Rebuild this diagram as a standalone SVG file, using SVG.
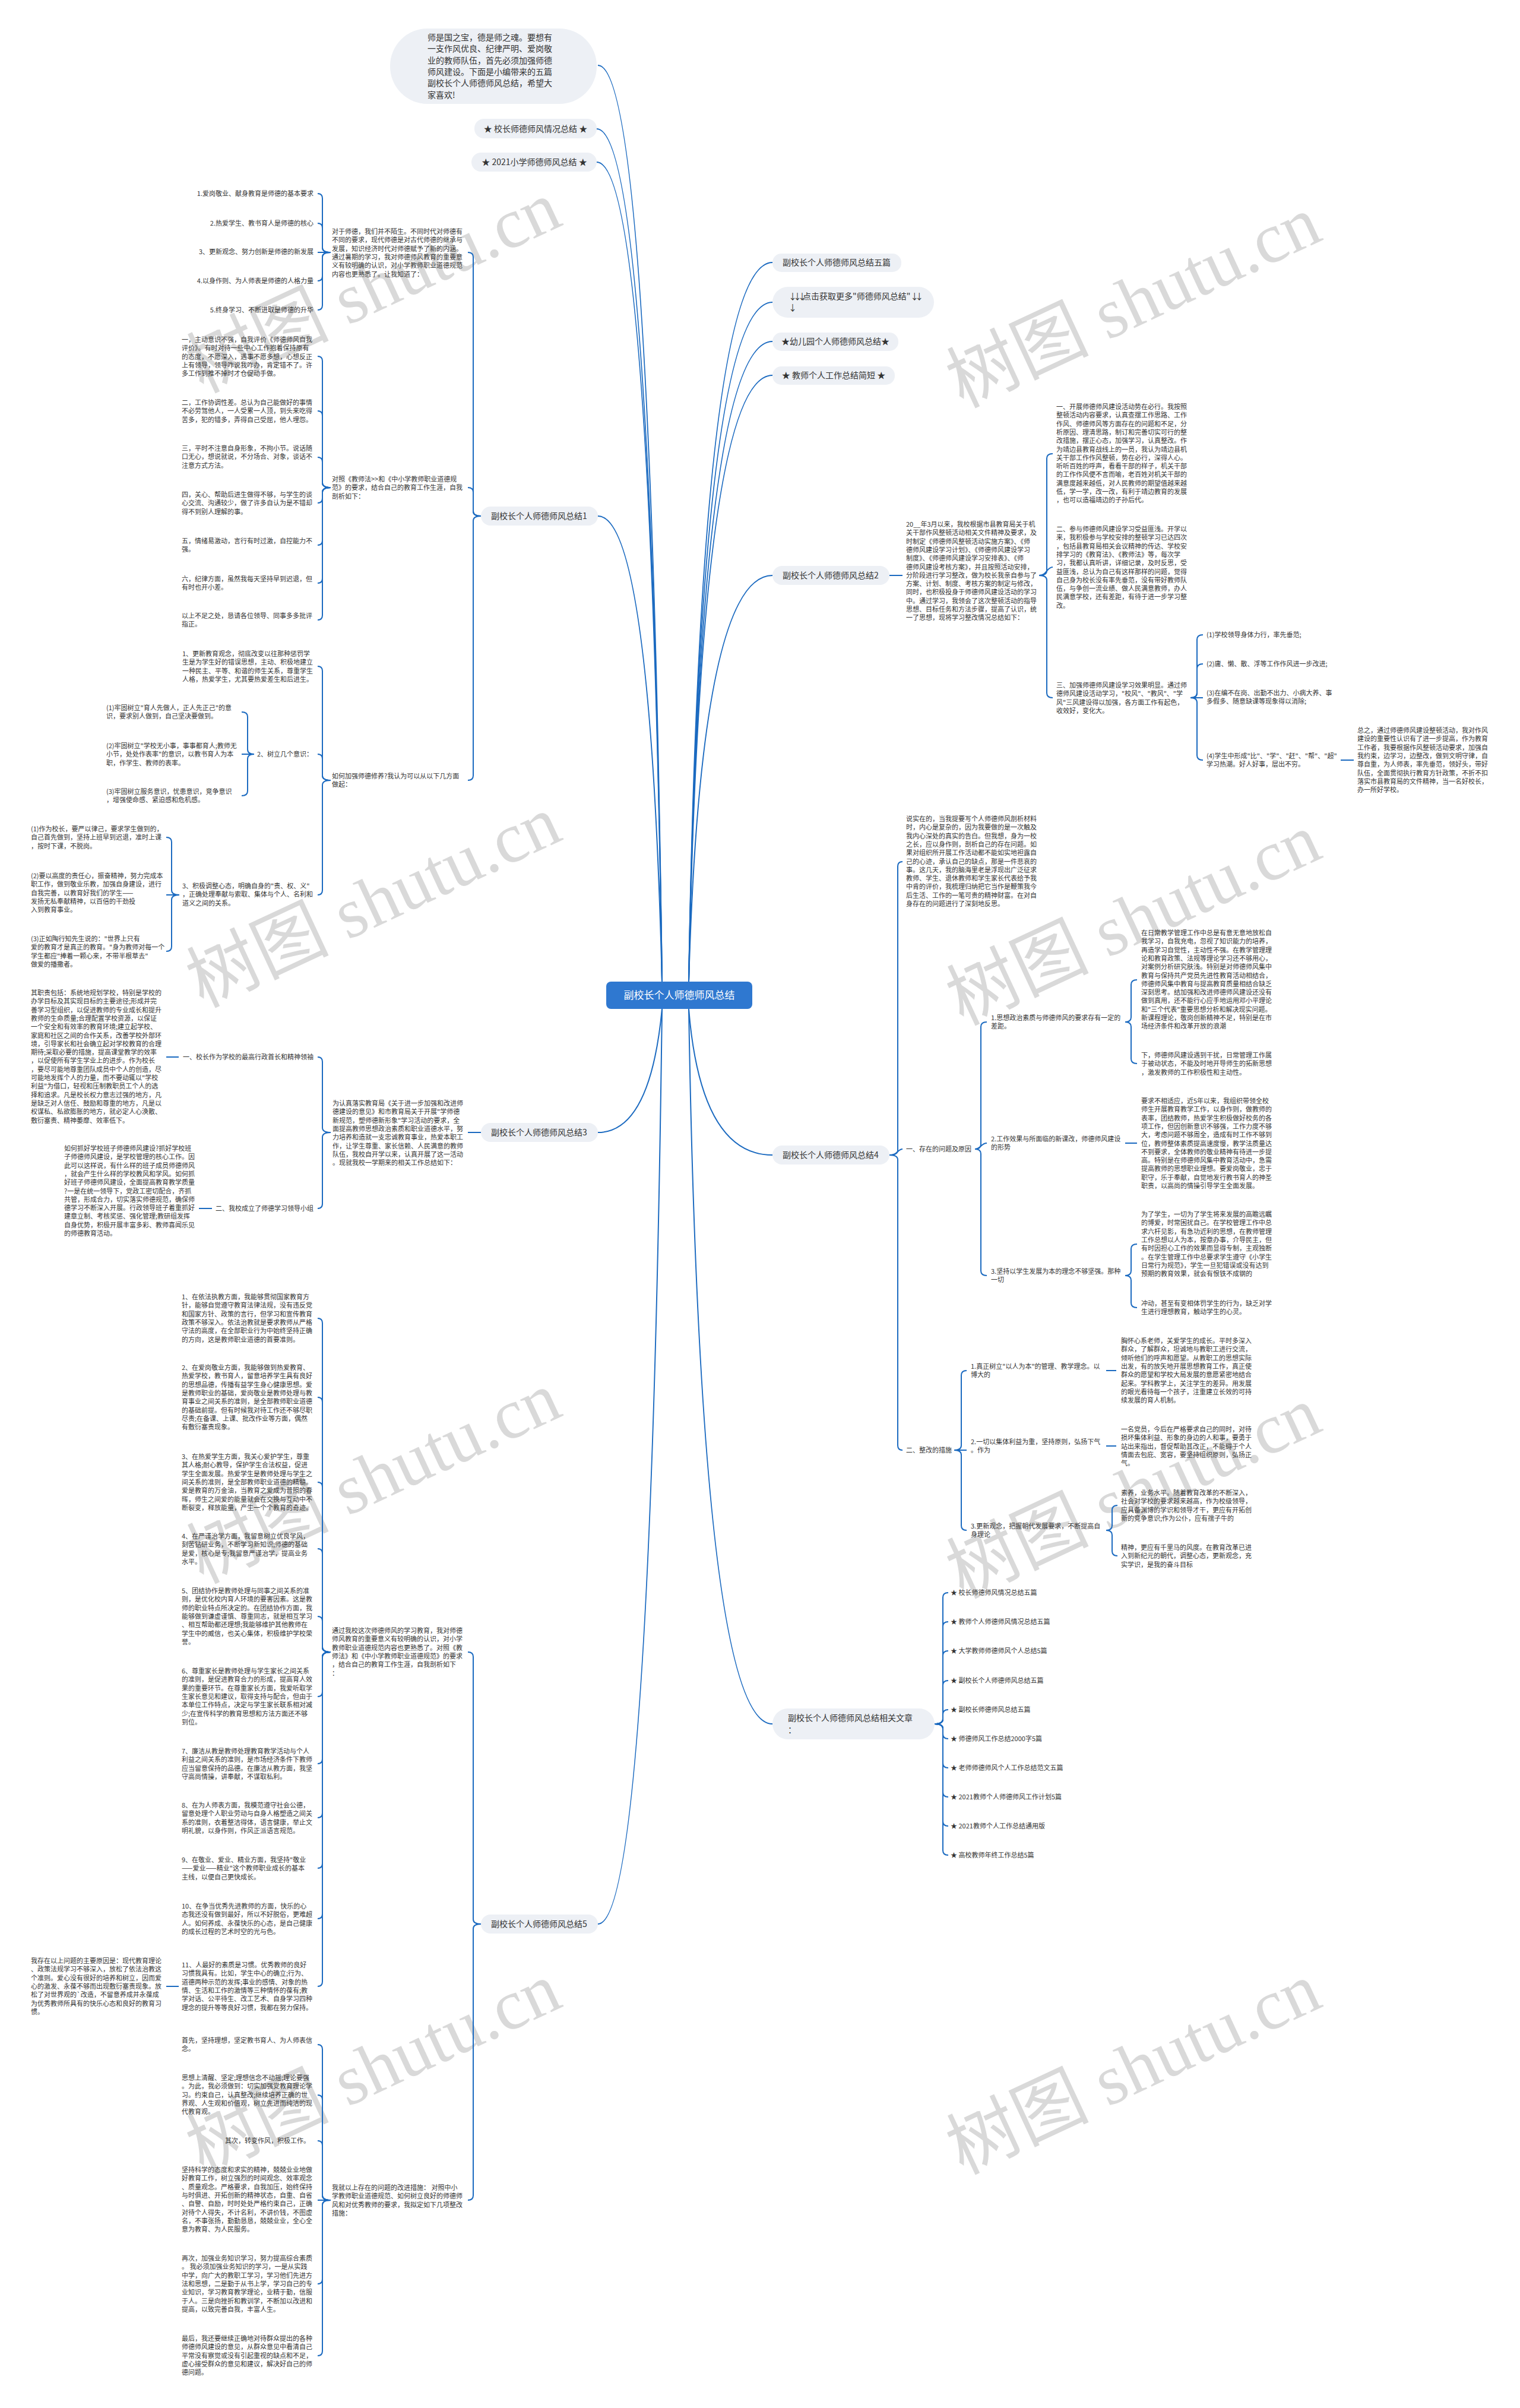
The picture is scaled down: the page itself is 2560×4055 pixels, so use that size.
<svg xmlns="http://www.w3.org/2000/svg" width="2560" height="4055" viewBox="0 0 2560 4055">
<style>
.t{font-family:"Noto Sans CJK SC","Noto Sans",sans-serif;font-size:11px;fill:#333}
.n{font-family:"Noto Sans CJK SC","Noto Sans",sans-serif;font-size:14px;fill:#333}
.m{text-anchor:middle}
.e{text-anchor:end}
.p{fill:#edf0f5}
.c path{fill:none;stroke:#1b6ac0;stroke-width:2}
.w{font-family:"Liberation Serif","Noto Sans CJK SC",serif;font-size:120px;fill:#d9d9d9}
.ar{letter-spacing:-6px}
</style>
<rect width="2560" height="4055" fill="#fff"/>
<g id="watermark">
<text class="w m" transform="translate(646 520) rotate(-25)">树图 shutu.cn</text>
<text class="w m" transform="translate(1926 545) rotate(-25)">树图 shutu.cn</text>
<text class="w m" transform="translate(646 1555) rotate(-25)">树图 shutu.cn</text>
<text class="w m" transform="translate(1926 1585) rotate(-25)">树图 shutu.cn</text>
<text class="w m" transform="translate(646 2525) rotate(-25)">树图 shutu.cn</text>
<text class="w m" transform="translate(1926 2550) rotate(-25)">树图 shutu.cn</text>
<text class="w m" transform="translate(646 3520) rotate(-25)">树图 shutu.cn</text>
<text class="w m" transform="translate(1926 3520) rotate(-25)">树图 shutu.cn</text>
</g>
<g id="connectors" class="c">
<path d="M1115 1653Q1095 110 1007 110"/>
<path d="M1115 1653Q1095 217 1005 217"/>
<path d="M1115 1653Q1095 273 1005 273"/>
<path d="M1115 1653Q1095 869 1007 869"/>
<path d="M1115 1699Q1095 1907 1007 1907"/>
<path d="M1115 1699Q1095 3240 1007 3240"/>
<path d="M1160 1653Q1180 442 1301 442"/>
<path d="M1160 1653Q1180 509 1301 509"/>
<path d="M1160 1653Q1180 575 1301 575"/>
<path d="M1160 1653Q1180 632 1301 632"/>
<path d="M1160 1653Q1180 969 1301 969"/>
<path d="M1160 1699Q1180 1945 1301 1945"/>
<path d="M1160 1699Q1180 2903 1301 2903"/>
<path d="M810 869Q797 869 797 861V433Q797 425 788 425"/>
<path d="M810 869Q797 869 797 861V829Q797 821 788 821"/>
<path d="M810 869Q797 869 797 877V1306Q797 1314 788 1314"/>
<path d="M557 425Q543 425 543 417V334Q543 326 535 326"/>
<path d="M557 425Q543 425 543 417V384Q543 376 535 376"/>
<path d="M557 425H535"/>
<path d="M557 425Q543 425 543 433V465Q543 473 535 473"/>
<path d="M557 425Q543 425 543 433V514Q543 522 535 522"/>
<path d="M557 821Q543 821 543 813V608Q543 600 535 600"/>
<path d="M557 821Q543 821 543 813V700Q543 692 535 692"/>
<path d="M557 821Q543 821 543 813V778Q543 770 535 770"/>
<path d="M557 821Q543 821 543 829V839Q543 847 535 847"/>
<path d="M557 821Q543 821 543 829V910Q543 918 535 918"/>
<path d="M557 821Q543 821 543 829V974Q543 982 535 982"/>
<path d="M557 821Q543 821 543 829V1036Q543 1044 535 1044"/>
<path d="M557 1314Q543 1314 543 1306V1130Q543 1122 535 1122"/>
<path d="M557 1314Q543 1314 543 1306V1278Q543 1270 535 1270"/>
<path d="M557 1314Q543 1314 543 1322V1499Q543 1507 535 1507"/>
<path d="M428 1270Q417 1270 417 1262V1207Q417 1199 407 1199"/>
<path d="M428 1270H407"/>
<path d="M428 1270Q417 1270 417 1278V1332Q417 1340 407 1340"/>
<path d="M302 1507Q289 1507 289 1499V1418Q289 1410 280 1410"/>
<path d="M302 1507H280"/>
<path d="M302 1507Q289 1507 289 1515V1594Q289 1602 280 1602"/>
<path d="M810 1907H788"/>
<path d="M557 1907Q543 1907 543 1899V1788Q543 1780 535 1780"/>
<path d="M557 1907Q543 1907 543 1915V2027Q543 2035 535 2035"/>
<path d="M301 1780H280"/>
<path d="M357 2035H335"/>
<path d="M810 3240Q797 3240 797 3232V2790Q797 2782 788 2782"/>
<path d="M810 3240Q797 3240 797 3248V3697Q797 3705 788 3705"/>
<path d="M557 2782Q543 2782 543 2774V2228Q543 2220 535 2220"/>
<path d="M557 2782Q543 2782 543 2774V2361Q543 2353 535 2353"/>
<path d="M557 2782Q543 2782 543 2774V2504Q543 2496 535 2496"/>
<path d="M557 2782Q543 2782 543 2774V2616Q543 2608 535 2608"/>
<path d="M557 2782Q543 2782 543 2774V2730Q543 2722 535 2722"/>
<path d="M557 2782Q543 2782 543 2790V2849Q543 2857 535 2857"/>
<path d="M557 2782Q543 2782 543 2790V2962Q543 2970 535 2970"/>
<path d="M557 2782Q543 2782 543 2790V3053Q543 3061 535 3061"/>
<path d="M557 2782Q543 2782 543 2790V3138Q543 3146 535 3146"/>
<path d="M557 2782Q543 2782 543 2790V3223Q543 3231 535 3231"/>
<path d="M557 2782Q543 2782 543 2790V3337Q543 3345 535 3345"/>
<path d="M301 3345H280"/>
<path d="M557 3705Q543 3705 543 3697V3451Q543 3443 535 3443"/>
<path d="M557 3705Q543 3705 543 3697V3536Q543 3528 535 3528"/>
<path d="M557 3705Q543 3705 543 3697V3613Q543 3605 535 3605"/>
<path d="M557 3705H535"/>
<path d="M557 3705Q543 3705 543 3713V3838Q543 3846 535 3846"/>
<path d="M557 3705Q543 3705 543 3713V3959Q543 3967 535 3967"/>
<path d="M1498 969H1520"/>
<path d="M1750 969Q1763 969 1763 961V772Q1763 764 1773 764"/>
<path d="M1750 969C1763 969 1763 955 1773 955"/>
<path d="M1750 969Q1763 969 1763 977V1167Q1763 1175 1773 1175"/>
<path d="M2005 1175Q2016 1175 2016 1167V1077Q2016 1069 2026 1069"/>
<path d="M2005 1175Q2016 1175 2016 1167V1126Q2016 1118 2026 1118"/>
<path d="M2005 1175H2026"/>
<path d="M2005 1175Q2016 1175 2016 1183V1272Q2016 1280 2026 1280"/>
<path d="M2258 1280H2280"/>
<path d="M1498 1945Q1512 1945 1512 1937V1459Q1512 1451 1520 1451"/>
<path d="M1498 1945C1512 1945 1512 1935 1520 1935"/>
<path d="M1498 1945Q1512 1945 1512 1953V2434Q1512 2442 1520 2442"/>
<path d="M1642 1935Q1652 1935 1652 1927V1729Q1652 1721 1662 1721"/>
<path d="M1642 1935C1652 1935 1652 1925 1662 1925"/>
<path d="M1642 1935Q1652 1935 1652 1943V2140Q1652 2148 1662 2148"/>
<path d="M1895 1721Q1905 1721 1905 1713V1658Q1905 1650 1915 1650"/>
<path d="M1895 1721Q1905 1721 1905 1729V1783Q1905 1791 1915 1791"/>
<path d="M1895 1925H1915"/>
<path d="M1895 2148Q1905 2148 1905 2140V2103Q1905 2095 1915 2095"/>
<path d="M1895 2148Q1905 2148 1905 2156V2194Q1905 2202 1915 2202"/>
<path d="M1607 2442Q1619 2442 1619 2434V2316Q1619 2308 1628 2308"/>
<path d="M1607 2442H1628"/>
<path d="M1607 2442Q1619 2442 1619 2450V2569Q1619 2577 1628 2577"/>
<path d="M1863 2308H1880"/>
<path d="M1863 2435H1880"/>
<path d="M1863 2577Q1873 2577 1873 2569V2543Q1873 2535 1882 2535"/>
<path d="M1863 2577Q1873 2577 1873 2585V2612Q1873 2620 1882 2620"/>
<path d="M1574 2903Q1588 2903 1588 2895V2690Q1588 2682 1597 2682"/>
<path d="M1574 2903Q1588 2903 1588 2895V2739Q1588 2731 1597 2731"/>
<path d="M1574 2903Q1588 2903 1588 2895V2788Q1588 2780 1597 2780"/>
<path d="M1574 2903Q1588 2903 1588 2895V2838Q1588 2830 1597 2830"/>
<path d="M1574 2903Q1588 2903 1588 2895V2887Q1588 2879 1597 2879"/>
<path d="M1574 2903Q1588 2903 1588 2911V2920Q1588 2928 1597 2928"/>
<path d="M1574 2903Q1588 2903 1588 2911V2969Q1588 2977 1597 2977"/>
<path d="M1574 2903Q1588 2903 1588 2911V3018Q1588 3026 1597 3026"/>
<path d="M1574 2903Q1588 2903 1588 2911V3067Q1588 3075 1597 3075"/>
<path d="M1574 2903Q1588 2903 1588 2911V3116Q1588 3124 1597 3124"/>
</g>
<g id="center">
<rect x="1021" y="1653" width="246" height="46" rx="8" fill="#2f78d0"/>
<text class="n m" x="1144" y="1682" style="font-size:17px;fill:#fff">副校长个人师德师风总结</text>
</g>
<g id="intro">
<rect class="p" x="657" y="48" width="348" height="127" rx="63"/>
<text class="n" x="720" y="68">师是国之宝，德是师之魂。要想有<tspan x="720" dy="19.3">一支作风优良、纪律严明、爱岗敬</tspan><tspan x="720" dy="19.3">业的教师队伍，首先必须加强师德</tspan><tspan x="720" dy="19.3">师风建设。下面是小编带来的五篇</tspan><tspan x="720" dy="19.3">副校长个人师德师风总结，希望大</tspan><tspan x="720" dy="19.3">家喜欢!</tspan></text>
</g>
<g id="link-a"><rect class="p" x="799" y="200" width="206" height="33" rx="16"/><text class="n m" x="902" y="222">★ 校长师德师风情况总结 ★</text></g>
<g id="link-b"><rect class="p" x="794" y="257" width="211" height="32" rx="16"/><text class="n m" x="900" y="278">★ 2021小学师德师风总结 ★</text></g>
<g id="node1">
<rect class="p" x="810" y="853" width="197" height="32" rx="16"/><text class="n m" x="908" y="874">副校长个人师德师风总结1</text>
<text class="t e" x="528" y="330">1.爱岗敬业、献身教育是师德的基本要求</text>
<text class="t e" x="528" y="380">2.热爱学生、教书育人是师德的核心</text>
<text class="t e" x="528" y="428">3、更新观念、努力创新是师德的新发展</text>
<text class="t e" x="528" y="477">4.以身作则、为人师表是师德的人格力量</text>
<text class="t e" x="528" y="526">5.终身学习、不断进取是师德的升华</text>
<text class="t" x="559" y="394">对于师德，我们并不陌生。不同时代对师德有<tspan x="559" dy="14.3">不同的要求，现代师德是对古代师德的继承与</tspan><tspan x="559" dy="14.3">发展，知识经济时代对师德赋予了新的内涵。</tspan><tspan x="559" dy="14.3">通过暑期的学习，我对师德师风教育的重要意</tspan><tspan x="559" dy="14.3">义有较明确的认识，对小学教师职业道德规范</tspan><tspan x="559" dy="14.3">内容也更熟悉了。让我知道了：</tspan></text>
<text class="t" x="559" y="811">对照《教师法&gt;&gt;和《中小学教师职业道德规<tspan x="559" dy="14.3">范》的要求，结合自己的教育工作生涯，自我</tspan><tspan x="559" dy="14.3">剖析如下：</tspan></text>
<text class="t" x="306" y="576">一，主动意识不强，自我评价《师德师风自我<tspan x="306" dy="14.3">评价》。有时对待一些中心工作抱着保持原有</tspan><tspan x="306" dy="14.3">的态度，不愿深入，遇事不愿多想，心想反正</tspan><tspan x="306" dy="14.3">上有领导，领导咋说我咋办，肯定错不了。许</tspan><tspan x="306" dy="14.3">多工作到推不掉时才仓促动手做。</tspan></text>
<text class="t" x="306" y="682">二，工作协调性差。总认为自己能做好的事情<tspan x="306" dy="14.3">不必劳驾他人，一人受累一人顶，到头来吃得</tspan><tspan x="306" dy="14.3">苦多，犯的错多，弄得自己受屈，他人埋怨。</tspan></text>
<text class="t" x="306" y="759">三，平时不注意自身形象，不拘小节。说话随<tspan x="306" dy="14.3">口无心，想说就说，不分场合、对象，谈话不</tspan><tspan x="306" dy="14.3">注意方式方法。</tspan></text>
<text class="t" x="306" y="837">四，关心、帮助后进生做得不够，与学生的谈<tspan x="306" dy="14.3">心交流、沟通较少，做了许多自认为是不错却</tspan><tspan x="306" dy="14.3">得不到别人理解的事。</tspan></text>
<text class="t" x="306" y="915">五，情绪易激动，言行有时过激，自控能力不<tspan x="306" dy="14.3">强。</tspan></text>
<text class="t" x="306" y="979">六，纪律方面，虽然我每天坚持早到迟退，但<tspan x="306" dy="14.3">有时也开小差。</tspan></text>
<text class="t" x="306" y="1041">以上不足之处，恳请各位领导、同事多多批评<tspan x="306" dy="14.3">指正。</tspan></text>
<text class="t" x="559" y="1311">如何加强师德修养?我认为可以从以下几方面<tspan x="559" dy="14.3">做起：</tspan></text>
<text class="t" x="307" y="1105">1、更新教育观念，彻底改变以往那种惩罚学<tspan x="307" dy="14.3">生是为学生好的错误思想，主动、积极地建立</tspan><tspan x="307" dy="14.3">一种民主、平等、和谐的师生关系，尊重学生</tspan><tspan x="307" dy="14.3">人格，热爱学生，尤其要热爱差生和后进生。</tspan></text>
<text class="t" x="433" y="1274">2、树立几个意识：</text>
<text class="t" x="179" y="1196">(1)牢固树立"育人先做人，正人先正己"的意<tspan x="179" dy="14.3">识，要求别人做到，自己坚决要做到。</tspan></text>
<text class="t" x="179" y="1260">(2)牢固树立"学校无小事，事事都育人;教师无<tspan x="179" dy="14.3">小节，处处作表率"的意识，以教书育人为本</tspan><tspan x="179" dy="14.3">职，作学生、教师的表率。</tspan></text>
<text class="t" x="179" y="1337">(3)牢固树立服务意识，忧患意识，竞争意识<tspan x="179" dy="14.3">，增强使命感、紧迫感和危机感。</tspan></text>
<text class="t" x="307" y="1496">3、积极调整心态，明确自身的"责、权、义"<tspan x="307" dy="14.3">，正确处理奉献与索取、集体与个人、名利和</tspan><tspan x="307" dy="14.3">道义之间的关系。</tspan></text>
<text class="t" x="52" y="1400">(1)作为校长，要严以律己，要求学生做到的，<tspan x="52" dy="14.3">自己首先做到，坚持上班早到迟退，准时上课</tspan><tspan x="52" dy="14.3">，按时下课，不脱岗。</tspan></text>
<text class="t" x="52" y="1479">(2)要以高度的责任心，振奋精神，努力完成本<tspan x="52" dy="14.3">职工作，做到敬业乐教，加强自身建设，进行</tspan><tspan x="52" dy="14.3">自我完善，以教育好我们的学生——</tspan><tspan x="52" dy="14.3">发扬无私奉献精神，以百倍的干劲投</tspan><tspan x="52" dy="14.3">入到教育事业。</tspan></text>
<text class="t" x="52" y="1585">(3)正如陶行知先生说的："世界上只有<tspan x="52" dy="14.3">爱的教育才是真正的教育。"身为教师对每一个</tspan><tspan x="52" dy="14.3">学生都应"捧着一颗心来，不带半根草去"</tspan><tspan x="52" dy="14.3">做爱的播撒者。</tspan></text>
</g>
<g id="node3">
<rect class="p" x="810" y="1891" width="197" height="32" rx="16"/><text class="n m" x="908" y="1912">副校长个人师德师风总结3</text>
<text class="t" x="560" y="1862">为认真落实教育局《关于进一步加强和改进师<tspan x="560" dy="14.3">德建设的意见》和市教育局关于开展"学师德</tspan><tspan x="560" dy="14.3">新规范，塑师德新形象"学习活动的要求，全</tspan><tspan x="560" dy="14.3">面提高教师思想政治素质和职业道德水平，努</tspan><tspan x="560" dy="14.3">力培养和造就一支忠诚教育事业，热爱本职工</tspan><tspan x="560" dy="14.3">作，让学生尊重、家长信赖、人民满意的教师</tspan><tspan x="560" dy="14.3">队伍，我校自开学以来，认真开展了这一活动</tspan><tspan x="560" dy="14.3">。现就我校一学期来的相关工作总结如下：</tspan></text>
<text class="t e" x="528" y="1784">一、校长作为学校的最高行政首长和精神领袖</text>
<text class="t e" x="528" y="2039">二、我校成立了师德学习领导小组</text>
<text class="t" x="52" y="1676">其职责包括：系统地规划学校，特别是学校的<tspan x="52" dy="14.3">办学目标及其实现目标的主要途径;形成并完</tspan><tspan x="52" dy="14.3">善学习型组织，以促进教师的专业成长和提升</tspan><tspan x="52" dy="14.3">教师的生命质量;合理配置学校资源，以保证</tspan><tspan x="52" dy="14.3">一个安全和有效率的教育环境;建立起学校、</tspan><tspan x="52" dy="14.3">家庭和社区之间的合作关系，改善学校外部环</tspan><tspan x="52" dy="14.3">境，引导家长和社会确立起对学校教育的合理</tspan><tspan x="52" dy="14.3">期待;采取必要的措施，提高课堂教学的效率</tspan><tspan x="52" dy="14.3">，以促使所有学生学业上的进步。作为校长</tspan><tspan x="52" dy="14.3">，要尽可能地尊重团队成员中个人的创造，尽</tspan><tspan x="52" dy="14.3">可能地发挥个人的力量，而不要动辄以"学校</tspan><tspan x="52" dy="14.3">利益"为借口，轻视和压制教职员工个人的选</tspan><tspan x="52" dy="14.3">择和追求。凡是校长权力意志过强的地方，凡</tspan><tspan x="52" dy="14.3">是缺乏对人信任、鼓励和尊重的地方，凡是以</tspan><tspan x="52" dy="14.3">权谋私、私欲膨胀的地方，就必定人心涣散、</tspan><tspan x="52" dy="14.3">敷衍塞责、精神萎靡、效率低下。</tspan></text>
<text class="t" x="108" y="1938">如何抓好学校班子师德师风建设?抓好学校班<tspan x="108" dy="14.3">子师德师风建设，是学校管理的核心工作。因</tspan><tspan x="108" dy="14.3">此可以这样说，有什么样的班子成员师德师风</tspan><tspan x="108" dy="14.3">，就会产生什么样的学校教风和学风。如何抓</tspan><tspan x="108" dy="14.3">好班子师德师风建设，全面提高教育教学质量</tspan><tspan x="108" dy="14.3">?一是在统一领导下，党政工密切配合，齐抓</tspan><tspan x="108" dy="14.3">共管，形成合力，切实落实师德规范，确保师</tspan><tspan x="108" dy="14.3">德学习不断深入开展。行政领导班子着重抓好</tspan><tspan x="108" dy="14.3">建章立制、考核奖惩、强化管理;教研组发挥</tspan><tspan x="108" dy="14.3">自身优势，积极开展丰富多彩、教师喜闻乐见</tspan><tspan x="108" dy="14.3">的师德教育活动。</tspan></text>
</g>
<g id="node5">
<rect class="p" x="810" y="3224" width="197" height="32" rx="16"/><text class="n m" x="908" y="3245">副校长个人师德师风总结5</text>
<text class="t" x="559" y="2750">通过我校这次师德师风的学习教育，我对师德<tspan x="559" dy="14.3">师风教育的重要意义有较明确的认识，对小学</tspan><tspan x="559" dy="14.3">教师职业道德规范内容也更熟悉了。对照《教</tspan><tspan x="559" dy="14.3">师法》和《中小学教师职业道德规范》的要求</tspan><tspan x="559" dy="14.3">，结合自己的教育工作生涯，自我剖析如下</tspan><tspan x="559" dy="14.3">：</tspan></text>
<text class="t" x="306" y="2188">1、在依法执教方面，我能够贯彻国家教育方<tspan x="306" dy="14.3">针，能够自觉遵守教育法律法规，没有违反党</tspan><tspan x="306" dy="14.3">和国家方针、政策的言行，但学习和宣传教育</tspan><tspan x="306" dy="14.3">政策不够深入。依法治教就是要求教师从严格</tspan><tspan x="306" dy="14.3">守法的高度，在全部职业行为中始终坚持正确</tspan><tspan x="306" dy="14.3">的方向，这是教师职业道德的首要准则。</tspan></text>
<text class="t" x="306" y="2307">2、在爱岗敬业方面，我能够做到热爱教育、<tspan x="306" dy="14.3">热爱学校，教书育人，留意培养学生具有良好</tspan><tspan x="306" dy="14.3">的思想品德，传播有益学生身心健康思想。爱</tspan><tspan x="306" dy="14.3">是教师职业的基础，爱岗敬业是教师处理与教</tspan><tspan x="306" dy="14.3">育事业之间关系的准则，是全部教师职业道德</tspan><tspan x="306" dy="14.3">的基础前提。但有时候我对待工作还不够尽职</tspan><tspan x="306" dy="14.3">尽责;在备课、上课、批改作业等方面，偶然</tspan><tspan x="306" dy="14.3">有敷衍塞责现象。</tspan></text>
<text class="t" x="306" y="2457">3、在热爱学生方面，我关心爱护学生，尊重<tspan x="306" dy="14.3">其人格;耐心教导，保护学生合法权益，促进</tspan><tspan x="306" dy="14.3">学生全面发展。热爱学生是教师处理与学生之</tspan><tspan x="306" dy="14.3">间关系的准则，是全部教师职业道德的精髓。</tspan><tspan x="306" dy="14.3">爱是教育的万金油，当教育之爱成为普照的春</tspan><tspan x="306" dy="14.3">晖，师生之间爱的能量就会在交换与互动中不</tspan><tspan x="306" dy="14.3">断裂变，释放能量，产生一个个教育的奇迹。</tspan></text>
<text class="t" x="306" y="2591">4、在严谨治学方面，我留意树立优良学风，<tspan x="306" dy="14.3">刻苦钻研业务，不断学习新知识;师德的基础</tspan><tspan x="306" dy="14.3">是爱，核心是专;我留意严谨治学，提高业务</tspan><tspan x="306" dy="14.3">水平。</tspan></text>
<text class="t" x="306" y="2683">5、团结协作是教师处理与同事之间关系的准<tspan x="306" dy="14.3">则，是优化校内育人环境的要害因素。这是教</tspan><tspan x="306" dy="14.3">师的职业特点所决定的。在团结协作方面，我</tspan><tspan x="306" dy="14.3">能够做到谦虚谨慎、尊重同志，就是相互学习</tspan><tspan x="306" dy="14.3">、相互帮助都还理想;我能够维护其他教师在</tspan><tspan x="306" dy="14.3">学生中的威信，也关心集体，积极维护学校荣</tspan><tspan x="306" dy="14.3">誉。</tspan></text>
<text class="t" x="306" y="2818">6、尊重家长是教师处理与学生家长之间关系<tspan x="306" dy="14.3">的准则，是促进教育合力的形成，提高育人效</tspan><tspan x="306" dy="14.3">果的重要环节。在尊重家长方面，我爱听取学</tspan><tspan x="306" dy="14.3">生家长意见和建议，取得支持与配合，但由于</tspan><tspan x="306" dy="14.3">本单位工作特点，决定与学生家长联系相对减</tspan><tspan x="306" dy="14.3">少;在宣传科学的教育思想和方法方面还不够</tspan><tspan x="306" dy="14.3">到位。</tspan></text>
<text class="t" x="306" y="2953">7、廉洁从教是教师处理教育教学活动与个人<tspan x="306" dy="14.3">利益之间关系的准则，是市场经济条件下教师</tspan><tspan x="306" dy="14.3">应当留意保持的品德。在廉洁从教方面，我坚</tspan><tspan x="306" dy="14.3">守高尚情操，讲奉献，不谋取私利。</tspan></text>
<text class="t" x="306" y="3044">8、在为人师表方面，我模范遵守社会公德，<tspan x="306" dy="14.3">留意处理个人职业劳动与自身人格塑造之间关</tspan><tspan x="306" dy="14.3">系的准则，衣着整洁得体，语言健康，举止文</tspan><tspan x="306" dy="14.3">明礼貌，以身作则，作风正派语言规范。</tspan></text>
<text class="t" x="306" y="3136">9、在敬业、爱业、精业方面，我坚持"敬业<tspan x="306" dy="14.3">——爱业——精业"这个教师职业成长的基本</tspan><tspan x="306" dy="14.3">主线，以便自己更快成长。</tspan></text>
<text class="t" x="306" y="3214">10、在争当优秀先进教师的方面，快乐的心<tspan x="306" dy="14.3">态我还没有做到最好，所以不好脱俗，更难超</tspan><tspan x="306" dy="14.3">人。如何养成、永葆快乐的心态，是自己健康</tspan><tspan x="306" dy="14.3">的成长过程的艺术时空的光与色。</tspan></text>
<text class="t" x="306" y="3313">11、人最好的素质是习惯。优秀教师的良好<tspan x="306" dy="14.3">习惯我具有。比如，学生中心的确立;行为、</tspan><tspan x="306" dy="14.3">道德两种示范的发挥;事业的感情、对象的热</tspan><tspan x="306" dy="14.3">情、生活和工作的激情等三种情怀的葆有;教</tspan><tspan x="306" dy="14.3">学对话、公平待生、改工艺术、自身学习四种</tspan><tspan x="306" dy="14.3">理念的提升等等良好习惯，我都在努力保持。</tspan></text>
<text class="t" x="52" y="3306">我存在以上问题的主要原因是：现代教育理论<tspan x="52" dy="14.3">、政策法规学习不够深入，放松了依法治教这</tspan><tspan x="52" dy="14.3">个准则。爱心没有很好的培养和树立，因而爱</tspan><tspan x="52" dy="14.3">心的激发、永葆不够而出现敷衍塞责现象。放</tspan><tspan x="52" dy="14.3">松了对世界观的`改造，不留意养成并永葆成</tspan><tspan x="52" dy="14.3">为优秀教师所具有的快乐心态和良好的教育习</tspan><tspan x="52" dy="14.3">惯。</tspan></text>
<text class="t" x="559" y="3688">我就以上存在的问题的改进措施：  对照中小<tspan x="559" dy="14.3">学教师职业道德规范、如何树立良好的师德师</tspan><tspan x="559" dy="14.3">风和对优秀教师的要求，我拟定如下几项整改</tspan><tspan x="559" dy="14.3">措施：</tspan></text>
<text class="t" x="306" y="3440">首先，坚持理想，坚定教书育人、为人师表信<tspan x="306" dy="14.3">念。</tspan></text>
<text class="t" x="306" y="3503">思想上清醒、坚定;理想信念不动摇;理论要强<tspan x="306" dy="14.3">。为此，我必须做到：切实加强党教育理论学</tspan><tspan x="306" dy="14.3">习。约束自己，认真整改;继续培养正确的世</tspan><tspan x="306" dy="14.3">界观、人生观和价值观，树立先进而纯洁的现</tspan><tspan x="306" dy="14.3">代教育观。</tspan></text>
<text class="t e" x="522" y="3609">其次，转变作风，积极工作。</text>
<text class="t" x="306" y="3658">坚持科学的态度和求实的精神，兢兢业业地做<tspan x="306" dy="14.3">好教育工作，树立强烈的时间观念、效率观念</tspan><tspan x="306" dy="14.3">、质量观念。严格要求，自我加压，始终保持</tspan><tspan x="306" dy="14.3">与时俱进、开拓创新的精神状态，自重、自省</tspan><tspan x="306" dy="14.3">、自警、自励，时时处处严格约束自己，正确</tspan><tspan x="306" dy="14.3">对待个人得失，不计名利，不讲价钱，不图虚</tspan><tspan x="306" dy="14.3">名，不事张扬，勤勤恳恳，兢兢业业，全心全</tspan><tspan x="306" dy="14.3">意为教育、为人民服务。</tspan></text>
<text class="t" x="306" y="3807">再次，加强业务知识学习，努力提高综合素质<tspan x="306" dy="14.3">。 我必须加强业务知识的学习，一是从实践</tspan><tspan x="306" dy="14.3">中学，向广大的教职工学习，学习他们先进方</tspan><tspan x="306" dy="14.3">法和思想，二是勤于从书上学，学习自己的专</tspan><tspan x="306" dy="14.3">业知识，学习教育教学理论，业精于勤，信服</tspan><tspan x="306" dy="14.3">于人。三是向挫折和教训学，不断加以改进和</tspan><tspan x="306" dy="14.3">提高，以致完善自我，丰富人生。</tspan></text>
<text class="t" x="306" y="3942">最后，我还要继续正确地对待群众提出的各种<tspan x="306" dy="14.3">师德师风建设的意见，从群众意见中看清自己</tspan><tspan x="306" dy="14.3">平常没有察觉或没有引起重视的缺点和不足，</tspan><tspan x="306" dy="14.3">虚心接受群众的意见和建议，解决好自己的师</tspan><tspan x="306" dy="14.3">德问题。</tspan></text>
</g>
<g id="link-c"><rect class="p" x="1301" y="427" width="217" height="31" rx="15"/><text class="n m" x="1409" y="447">副校长个人师德师风总结五篇</text></g>
<g id="link-d"><rect class="p" x="1301" y="483" width="272" height="52" rx="26"/><text class="n" x="1328" y="504"><tspan class="ar">↓↓↓</tspan>点击获取更多"师德师风总结"<tspan class="ar">↓↓</tspan><tspan x="1328" dy="19">↓</tspan></text></g>
<g id="link-e"><rect class="p" x="1301" y="560" width="212" height="31" rx="15"/><text class="n m" x="1407" y="580">★幼儿园个人师德师风总结★</text></g>
<g id="link-f"><rect class="p" x="1301" y="617" width="206" height="31" rx="15"/><text class="n m" x="1404" y="637">★ 教师个人工作总结简短 ★</text></g>
<g id="node2">
<rect class="p" x="1301" y="953" width="197" height="32" rx="16"/><text class="n m" x="1399" y="974">副校长个人师德师风总结2</text>
<text class="t" x="1526" y="887">20__年3月以来，我校根据市县教育局关于机<tspan x="1526" dy="14.3">关干部作风整顿活动相关文件精神及要求，及</tspan><tspan x="1526" dy="14.3">时制定《师德师风整顿活动实施方案》、《师</tspan><tspan x="1526" dy="14.3">德师风建设学习计划》、《师德师风建设学习</tspan><tspan x="1526" dy="14.3">制度》、《师德师风建设学习安排表》、《师</tspan><tspan x="1526" dy="14.3">德师风建设考核方案》，并且按照活动安排，</tspan><tspan x="1526" dy="14.3">分阶段进行学习整改，做为校长我亲自参与了</tspan><tspan x="1526" dy="14.3">方案、计划、制度、考核方案的制定与修改，</tspan><tspan x="1526" dy="14.3">同时，也积极投身于师德师风建设活动的学习</tspan><tspan x="1526" dy="14.3">中。通过学习，我领会了这次整顿活动的指导</tspan><tspan x="1526" dy="14.3">思想、目标任务和方法步骤，提高了认识，统</tspan><tspan x="1526" dy="14.3">一了思想，现将学习整改情况总结如下：</tspan></text>
<text class="t" x="1779" y="689">一、开展师德师风建设活动势在必行。我按照<tspan x="1779" dy="14.3">整顿活动内容要求，认真查摆工作思路、工作</tspan><tspan x="1779" dy="14.3">作风、师德师风等方面存在的问题和不足，分</tspan><tspan x="1779" dy="14.3">析原因、理清思路，制订和完善切实可行的整</tspan><tspan x="1779" dy="14.3">改措施，摆正心态，加强学习，认真整改。作</tspan><tspan x="1779" dy="14.3">为靖边县教育战线上的一员，我认为靖边县机</tspan><tspan x="1779" dy="14.3">关干部工作作风整顿，势在必行，深得人心。</tspan><tspan x="1779" dy="14.3">听听百姓的呼声，看看干部的样子，机关干部</tspan><tspan x="1779" dy="14.3">的工作作风便不言而喻，老百姓对机关干部的</tspan><tspan x="1779" dy="14.3">满意度越来越低，对人民教师的期望值越来越</tspan><tspan x="1779" dy="14.3">低，学一学，改一改，有利于靖边教育的发展</tspan><tspan x="1779" dy="14.3">，也可以造福靖边的子孙后代。</tspan></text>
<text class="t" x="1779" y="895">二、参与师德师风建设学习受益匪浅。开学以<tspan x="1779" dy="14.3">来，我积极参与学校安排的整顿学习已达四次</tspan><tspan x="1779" dy="14.3">，包括县教育局相关会议精神的传达、学校安</tspan><tspan x="1779" dy="14.3">排学习的《教育法》、《教师法》等，每次学</tspan><tspan x="1779" dy="14.3">习，我都认真听讲，详细记录，及时反思，受</tspan><tspan x="1779" dy="14.3">益匪浅，总认为自己有这样那样的问题，觉得</tspan><tspan x="1779" dy="14.3">自己身为校长没有率先垂范，没有带好教师队</tspan><tspan x="1779" dy="14.3">伍，与争创一流业绩、做人民满意教师，办人</tspan><tspan x="1779" dy="14.3">民满意学校，还有差距，有待于进一步学习整</tspan><tspan x="1779" dy="14.3">改。</tspan></text>
<text class="t" x="1779" y="1158">三、加强师德师风建设学习效果明显。通过师<tspan x="1779" dy="14.3">德师风建设活动学习，"校风"、"教风"、"学</tspan><tspan x="1779" dy="14.3">风"三风建设得以加强，各方面工作有起色，</tspan><tspan x="1779" dy="14.3">收效好，变化大。</tspan></text>
<text class="t" x="2032" y="1073">(1)学校领导身体力行，率先垂范;</text>
<text class="t" x="2032" y="1122">(2)庸、懒、散、浮等工作作风进一步改进;</text>
<text class="t" x="2032" y="1171">(3)在编不在岗、出勤不出力、小病大养、事<tspan x="2032" dy="14.3">多假多、随意缺课等现象得以消除;</tspan></text>
<text class="t" x="2032" y="1277">(4)学生中形成"比"、"学"、"赶"、"帮"、"超"<tspan x="2032" dy="14.3">学习热潮。好人好事，层出不穷。</tspan></text>
<text class="t" x="2286" y="1234">总之，通过师德师风建设整顿活动，我对作风<tspan x="2286" dy="14.3">建设的重要性认识有了进一步提高，作为教育</tspan><tspan x="2286" dy="14.3">工作者，我要根据作风整顿活动要求，加强自</tspan><tspan x="2286" dy="14.3">我约束，边学习，边整改，做到文明守律，自</tspan><tspan x="2286" dy="14.3">尊自重，为人师表，率先垂范，领好头，带好</tspan><tspan x="2286" dy="14.3">队伍，全面贯彻执行教育方针政策，不折不扣</tspan><tspan x="2286" dy="14.3">落实市县教育局的文件精神，当一名好校长，</tspan><tspan x="2286" dy="14.3">办一所好学校。</tspan></text>
</g>
<g id="node4">
<rect class="p" x="1301" y="1929" width="197" height="32" rx="16"/><text class="n m" x="1399" y="1950">副校长个人师德师风总结4</text>
<text class="t" x="1526" y="1383">说实在的，当我提要写个人师德师风剖析材料<tspan x="1526" dy="14.3">时，内心是复杂的，因为我要做的是一次触及</tspan><tspan x="1526" dy="14.3">我内心深处的真实的告白。但我想，身为一校</tspan><tspan x="1526" dy="14.3">之长，应以身作则，剖析自己的存在问题。如</tspan><tspan x="1526" dy="14.3">果对组织所开展工作活动都不能如实地袒露自</tspan><tspan x="1526" dy="14.3">己的心迹，承认自己的缺点，那是一件悲哀的</tspan><tspan x="1526" dy="14.3">事。这几天，我的脑海里老是浮现出广泛征求</tspan><tspan x="1526" dy="14.3">教师、学生、退休教师和学生家长代表给予我</tspan><tspan x="1526" dy="14.3">中肯的评价，我梳理归纳把它当作是鞭策我今</tspan><tspan x="1526" dy="14.3">后生活、工作的一笔可贵的精神财富。在对自</tspan><tspan x="1526" dy="14.3">身存在的问题进行了深刻地反思。</tspan></text>
<text class="t" x="1526" y="1939">一、存在的问题及原因</text>
<text class="t" x="1526" y="2446">二、整改的措施</text>
<text class="t" x="1669" y="1718">1.思想政治素质与师德师风的要求存有一定的<tspan x="1669" dy="14.3">差距。</tspan></text>
<text class="t" x="1669" y="1922">2.工作效果与所面临的新课改，师德师风建设<tspan x="1669" dy="14.3">的形势</tspan></text>
<text class="t" x="1669" y="2145">3.坚持以学生发展为本的理念不够坚强。那种<tspan x="1669" dy="14.3">一切</tspan></text>
<text class="t" x="1922" y="1575">在日常教学管理工作中总是有意无意地放松自<tspan x="1922" dy="14.3">我学习，自我充电，忽视了知识能力的培养，</tspan><tspan x="1922" dy="14.3">再造学习自觉性，主动性不强。在教学管理理</tspan><tspan x="1922" dy="14.3">论和教育政策、法规等理论学习还不够用心，</tspan><tspan x="1922" dy="14.3">对案例分析研究肤浅。特别是对师德师风集中</tspan><tspan x="1922" dy="14.3">教育与保持共产党员先进性教育活动相结合，</tspan><tspan x="1922" dy="14.3">师德师风集中教育与提高教育质量相结合缺乏</tspan><tspan x="1922" dy="14.3">深刻思考。结加强和改进师德师风建设还没有</tspan><tspan x="1922" dy="14.3">做到真用，还不能行心应手地运用邓小平理论</tspan><tspan x="1922" dy="14.3">和"三个代表"重要思想分析和解决现实问题。</tspan><tspan x="1922" dy="14.3">新课程理论，敬岗创新精神不足，特别是在市</tspan><tspan x="1922" dy="14.3">场经济条件和改革开放的浪潮</tspan></text>
<text class="t" x="1922" y="1781">下，师德师风建设遇到干扰，日常管理工作属<tspan x="1922" dy="14.3">于被动状态，不能及时地开导师生的拓新思想</tspan><tspan x="1922" dy="14.3">，激发教师的工作积极性和主动性。</tspan></text>
<text class="t" x="1922" y="1858">要求不相适应，近5年以来，我组织带领全校<tspan x="1922" dy="14.3">师生开展教育教学工作，以身作则，做教师的</tspan><tspan x="1922" dy="14.3">表率，团结教师，热爱学生积极做好校务的各</tspan><tspan x="1922" dy="14.3">项工作，但因创新意识不够强，工作力度不够</tspan><tspan x="1922" dy="14.3">大，考虑问题不够周全，造成有时工作不够到</tspan><tspan x="1922" dy="14.3">位，教师整体素质提高速度慢，教学法质量达</tspan><tspan x="1922" dy="14.3">不到要求，全体教师的敬业精神有待进一步提</tspan><tspan x="1922" dy="14.3">高。特别是在师德师风集中教育活动中，急需</tspan><tspan x="1922" dy="14.3">提高教师的思想职业理想。要爱岗敬业，忠于</tspan><tspan x="1922" dy="14.3">职守，乐于奉献，自觉地发行教书育人的神圣</tspan><tspan x="1922" dy="14.3">职责，以高尚的情操引导学生全面发展。</tspan></text>
<text class="t" x="1922" y="2049">为了学生，一切为了学生将来发展的高瞻远瞩<tspan x="1922" dy="14.3">的博爱，时常困扰自己。在学校管理工作中总</tspan><tspan x="1922" dy="14.3">求六杆见影，有急功近利的思想，在教师管理</tspan><tspan x="1922" dy="14.3">工作总想以人为本，按章办事，介导民主，但</tspan><tspan x="1922" dy="14.3">有时因担心工作的效果而显得专制，主观独断</tspan><tspan x="1922" dy="14.3">。在学生管理工作中总要求学生遵守《小学生</tspan><tspan x="1922" dy="14.3">日常行为规范》，学生一旦犯错误或没有达到</tspan><tspan x="1922" dy="14.3">预期的教育效果，就会有恨铁不成钢的</tspan></text>
<text class="t" x="1922" y="2199">冲动，甚至有变相体罚学生的行为，缺乏对学<tspan x="1922" dy="14.3">生进行理想教育，触动学生的心灵。</tspan></text>
<text class="t" x="1635" y="2305">1.真正树立"以人为本"的管理、教学理念。以<tspan x="1635" dy="14.3">博大的</tspan></text>
<text class="t" x="1635" y="2432">2.一切以集体利益为重，坚持原则，弘扬下气<tspan x="1635" dy="14.3">。作为</tspan></text>
<text class="t" x="1635" y="2574">3.更新观念，把握朝代发展要求，不断提高自<tspan x="1635" dy="14.3">身理论</tspan></text>
<text class="t" x="1888" y="2262">胸怀心系老师，关爱学生的成长。平时多深入<tspan x="1888" dy="14.3">群众，了解群众，坦诚地与教职工进行交流，</tspan><tspan x="1888" dy="14.3">倾听他们的呼声和愿望。从教职工的思想实际</tspan><tspan x="1888" dy="14.3">出发，有的放矢地开展思想教育工作，真正使</tspan><tspan x="1888" dy="14.3">群众的愿望和学校大局发展的意愿紧密地结合</tspan><tspan x="1888" dy="14.3">起来。学科教学上，关注学生的差异。用发展</tspan><tspan x="1888" dy="14.3">的眼光看待每一个孩子，注重建立长效的可持</tspan><tspan x="1888" dy="14.3">续发展的育人机制。</tspan></text>
<text class="t" x="1888" y="2411">一名党员，今后在严格要求自己的同时，对待<tspan x="1888" dy="14.3">损坏集体利益、形象的身边的人和事，要勇于</tspan><tspan x="1888" dy="14.3">站出来指出，督促帮助其改正，不能碍于个人</tspan><tspan x="1888" dy="14.3">情面去包庇、宽容，要坚持组织原则，弘扬正</tspan><tspan x="1888" dy="14.3">气。</tspan></text>
<text class="t" x="1888" y="2518">素养，业务水平。随着教育改革的不断深入，<tspan x="1888" dy="14.3">社会对学校的要求越来越高，作为校级领导，</tspan><tspan x="1888" dy="14.3">应具备渊博的学识和领导才干，更应有开拓创</tspan><tspan x="1888" dy="14.3">新的竞争意识;作为公仆，应有孺子牛的</tspan></text>
<text class="t" x="1888" y="2610">精神，更应有千里马的风度。在教育改革已进<tspan x="1888" dy="14.3">入到新纪元的朝代，调整心态，更新观念，充</tspan><tspan x="1888" dy="14.3">实学识，是我的奋斗目标</tspan></text>
</g>
<g id="related">
<rect class="p" x="1301" y="2877" width="273" height="52" rx="26"/><text class="n" x="1327" y="2898">副校长个人师德师风总结相关文章<tspan x="1327" dy="20">：</tspan></text>
<text class="t" x="1601" y="2686">★ 校长师德师风情况总结五篇</text>
<text class="t" x="1601" y="2735">★ 教师个人师德师风情况总结五篇</text>
<text class="t" x="1601" y="2784">★ 大学教师师德师风个人总结5篇</text>
<text class="t" x="1601" y="2834">★ 副校长个人师德师风总结五篇</text>
<text class="t" x="1601" y="2883">★ 副校长师德师风总结五篇</text>
<text class="t" x="1601" y="2932">★ 师德师风工作总结2000字5篇</text>
<text class="t" x="1601" y="2981">★ 老师师德师风个人工作总结范文五篇</text>
<text class="t" x="1601" y="3030">★ 2021教师个人师德师风工作计划5篇</text>
<text class="t" x="1601" y="3079">★ 2021教师个人工作总结通用版</text>
<text class="t" x="1601" y="3128">★ 高校教师年终工作总结5篇</text>
</g>
</svg>
